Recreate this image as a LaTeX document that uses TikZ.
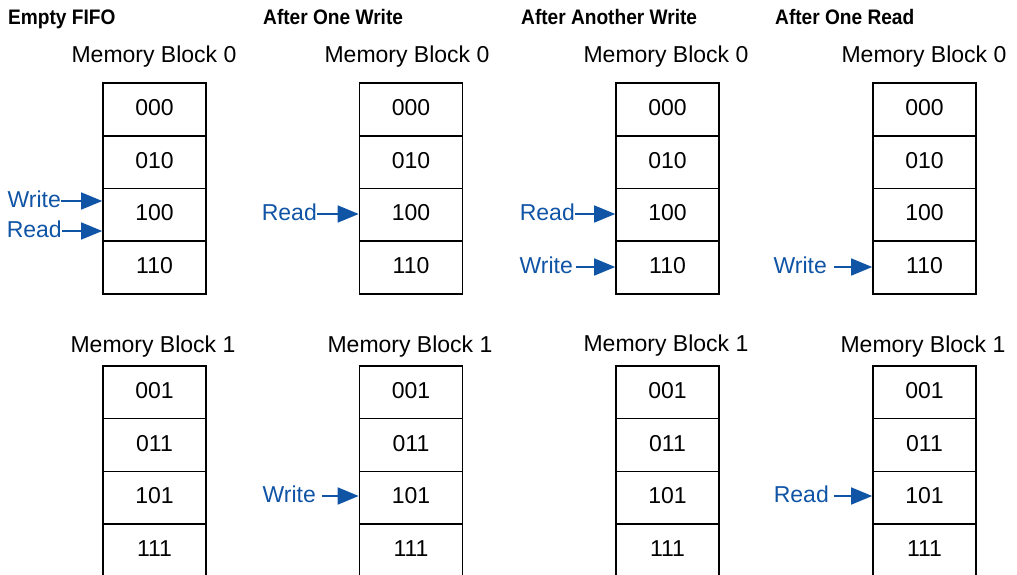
\documentclass[tikz,border=0pt]{standalone}
\usepackage{fontspec}
\setmainfont{Liberation Sans}
\newfontfamily\hdrfont[FakeStretch=0.91]{Liberation Sans}
\usetikzlibrary{arrows.meta,calc}
\definecolor{ptrblue}{RGB}{16,84,166}
\begin{document}
\begin{tikzpicture}[x=1pt,y=-1pt,
  cell/.style={draw=black,line width=1.6pt,minimum width=103pt,minimum height=52.75pt,
    inner sep=0pt,text depth=4pt,font=\fontsize{23}{27}\selectfont},
  blk/.style={anchor=base,inner sep=0pt,font=\fontsize{23}{27}\selectfont},
  hdr/.style={anchor=base west,inner sep=0pt,font=\hdrfont\fontsize{21}{25}\selectfont\bfseries},
  ptrlbl/.style={anchor=east,inner sep=0pt,text depth=4pt,text=ptrblue,font=\fontsize{23}{27}\selectfont},
  ptr/.style={draw=ptrblue,line width=1.5pt,-{Triangle[length=21pt,width=17pt]}}
]
\useasboundingbox (0,0) rectangle (1017,575);
\clip (0,0) rectangle (1017,575);

% headers
\node[hdr] (h1) at (8,25) {Empty FIFO};
\node[hdr] (h2) at (263,25) {After One Write};
\node[hdr] (h3) at (521,25) {After Another Write};
\node[hdr] (h4) at (775,25) {After One Read};

% block titles
\node[blk] (m10) at (154,63) {Memory Block 0};
\node[blk] (m20) at (407,63) {Memory Block 0};
\node[blk] (m30) at (666,63) {Memory Block 0};
\node[blk] (m40) at (924,63) {Memory Block 0};
\node[blk] (m11) at (153,352) {Memory Block 1};
\node[blk] (m21) at (410,352) {Memory Block 1};
\node[blk] (m31) at (666,351) {Memory Block 1};
\node[blk] (m41) at (923,352) {Memory Block 1};

% cells
\foreach \col/\x in {1/154.5,2/411,3/667.5,4/924.5}{
  \foreach \r/\lbl in {0/000,1/010,2/100,3/110}{
    \node[cell] (c\col t\r) at (\x,{109.4+52.75*\r}) {\lbl};
  }
  \foreach \r/\lbl in {0/001,1/011,2/101,3/111}{
    \node[cell] (c\col b\r) at (\x,{392.3+52.75*\r}) {\lbl};
  }
}

% pointers: column 1
\node[ptrlbl] (w1) at (61,201) {Write};
\node[ptrlbl] (r1) at (62,231) {Read};
\draw[ptr] (w1.east) -- (w1.east -| c1t2.west);
\draw[ptr] (r1.east) -- (r1.east -| c1t2.west);

% column 2
\node[ptrlbl] (r2) at (317,214) {Read};
\node[ptrlbl] (w2) at (316,496) {Write};
\draw[ptr] (r2.east) -- (r2.east -| c2t2.west);
\draw[ptr,shorten <=6pt] (w2.east) -- (w2.east -| c2b2.west);

% column 3
\node[ptrlbl] (r3) at (575,214) {Read};
\node[ptrlbl] (w3) at (573,267) {Write};
\draw[ptr] (r3.east) -- (r3.east -| c3t2.west);
\draw[ptr,shorten <=3pt] (w3.east) -- (w3.east -| c3t3.west);

% column 4
\node[ptrlbl] (w4) at (827,267) {Write};
\node[ptrlbl] (r4) at (829,496) {Read};
\draw[ptr,shorten <=7pt] (w4.east) -- (w4.east -| c4t3.west);
\draw[ptr,shorten <=5pt] (r4.east) -- (r4.east -| c4b2.west);
\end{tikzpicture}
\end{document}
